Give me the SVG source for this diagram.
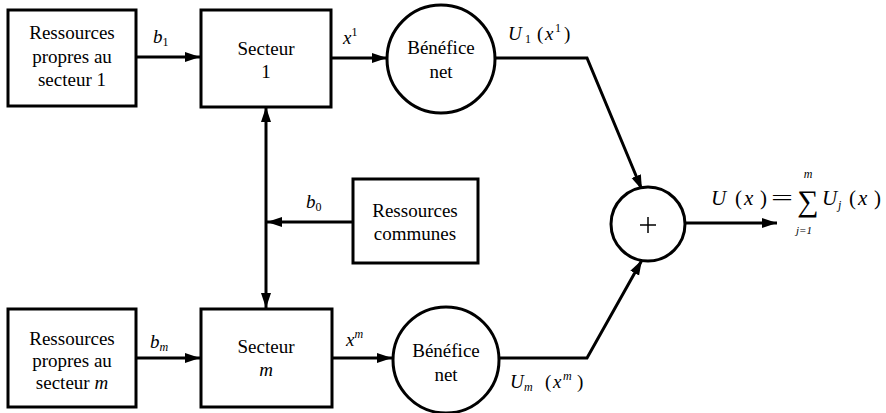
<svg xmlns="http://www.w3.org/2000/svg" width="886" height="413" viewBox="0 0 886 413">
<style>
.box{fill:#fff;stroke:#000;stroke-width:3}
.ln{fill:none;stroke:#000;stroke-width:3}
.t{font-family:"Liberation Serif","Times New Roman",serif;font-size:19px;fill:#000;text-anchor:middle}
.l{font-family:"Liberation Serif","Times New Roman",serif;font-size:19px;fill:#000;font-style:italic}
.f{font-family:"Liberation Serif","Times New Roman",serif;font-size:21px;fill:#000}
.s{font-size:12px}
.n{font-style:normal}
</style>
<defs>
<marker id="ah" markerUnits="userSpaceOnUse" markerWidth="16" markerHeight="12" refX="15" refY="6" orient="auto">
<path d="M0,1 L15,6 L0,11 Z" fill="#000"/>
</marker>
</defs>
<rect width="886" height="413" fill="#fff"/>
<g id="connectors">
<line class="ln" x1="136" y1="57" x2="200" y2="57" marker-end="url(#ah)"/>
<line class="ln" x1="331" y1="58" x2="387" y2="58" marker-end="url(#ah)"/>
<polyline class="ln" points="495,58 587,58 642,190" marker-end="url(#ah)"/>
<line class="ln" x1="136" y1="358" x2="200" y2="358" marker-end="url(#ah)"/>
<line class="ln" x1="332" y1="358" x2="392" y2="358" marker-end="url(#ah)"/>
<polyline class="ln" points="500,358 587,358 642,260" marker-end="url(#ah)"/>
<line class="ln" x1="266" y1="208" x2="266" y2="107" marker-end="url(#ah)"/>
<line class="ln" x1="266" y1="208" x2="266" y2="308" marker-end="url(#ah)"/>
<line class="ln" x1="353" y1="222" x2="267" y2="222" marker-end="url(#ah)"/>
<line class="ln" x1="685" y1="223" x2="777" y2="223" marker-end="url(#ah)"/>
</g>
<g id="labels">
<text class="l" x="153" y="43">b<tspan class="s n" dy="3">1</tspan></text>
<text class="l" x="343" y="44">x<tspan class="s n" dy="-8">1</tspan></text>
<text class="l" y="40"><tspan x="508">U</tspan><tspan class="s n" x="525" dy="3">1</tspan><tspan class="n" x="537" dy="-3">(</tspan><tspan x="545">x</tspan><tspan class="s n" x="555" dy="-8">1</tspan><tspan class="n" x="564" dy="8">)</tspan></text>
<text class="l" x="150" y="348">b<tspan class="s" dy="3">m</tspan></text>
<text class="l" x="346" y="346">x<tspan class="s" dy="-8">m</tspan></text>
<text class="l" y="388"><tspan x="510">U</tspan><tspan class="s" x="524" dy="3">m</tspan><tspan class="n" x="545" dy="-3">(</tspan><tspan x="553">x</tspan><tspan class="s" x="563" dy="-8">m</tspan><tspan class="n" x="577" dy="8">)</tspan></text>
<text class="l" x="306" y="208">b<tspan class="s n" dy="3">0</tspan></text>
<text class="f" y="205"><tspan x="711" font-style="italic">U</tspan><tspan x="735">(</tspan><tspan x="744" font-style="italic">x</tspan><tspan x="760">)</tspan></text>
<text class="f" x="771" y="205" textLength="22" lengthAdjust="spacingAndGlyphs">=</text>
<text class="f" x="808" y="211" text-anchor="middle" style="font-size:30px">∑</text>
<text class="f" x="808" y="178" text-anchor="middle" style="font-size:12px;font-style:italic">m</text>
<text class="f" x="804" y="234" text-anchor="middle" style="font-size:11px;font-style:italic">j=1</text>
<text class="f" y="205"><tspan x="822" font-style="italic">U</tspan><tspan x="838" dy="4" style="font-size:12px;font-style:italic">j</tspan><tspan x="849" dy="-4">(</tspan><tspan x="858" font-style="italic">x</tspan><tspan x="874">)</tspan></text>
</g>
<g id="res1">
<rect class="box" x="8" y="10" width="128" height="96"/>
<text class="t" x="72" y="39">Ressources</text>
<text class="t" x="72" y="63">propres au</text>
<text class="t" x="72" y="86">secteur 1</text>
</g>
<g id="sect1">
<rect class="box" x="201" y="10" width="130" height="97"/>
<text class="t" x="266" y="55">Secteur</text>
<text class="t" x="266" y="78">1</text>
</g>
<g id="ben1">
<circle class="box" cx="441" cy="59" r="54"/>
<text class="t" x="441" y="54">Bénéfice</text>
<text class="t" x="441" y="78">net</text>
</g>
<g id="commun">
<rect class="box" x="353" y="179" width="125" height="84"/>
<text class="t" x="415" y="217">Ressources</text>
<text class="t" x="415" y="240">communes</text>
</g>
<g id="sum">
<circle class="box" cx="648" cy="224" r="37"/>
<path d="M640,225 H656 M648,217 V233" stroke="#000" stroke-width="1.5"/>
</g>
<g id="resm">
<rect class="box" x="8" y="309" width="128" height="98"/>
<text class="t" x="72" y="345">Ressources</text>
<text class="t" x="72" y="367">propres au</text>
<text class="t" x="72" y="389">secteur <tspan font-style="italic">m</tspan></text>
</g>
<g id="sectm">
<rect class="box" x="201" y="309" width="131" height="98"/>
<text class="t" x="266" y="353">Secteur</text>
<text class="t" x="266" y="376" font-style="italic">m</text>
</g>
<g id="benm">
<circle class="box" cx="446" cy="360" r="53"/>
<text class="t" x="446" y="357">Bénéfice</text>
<text class="t" x="446" y="381">net</text>
</g>
</svg>
